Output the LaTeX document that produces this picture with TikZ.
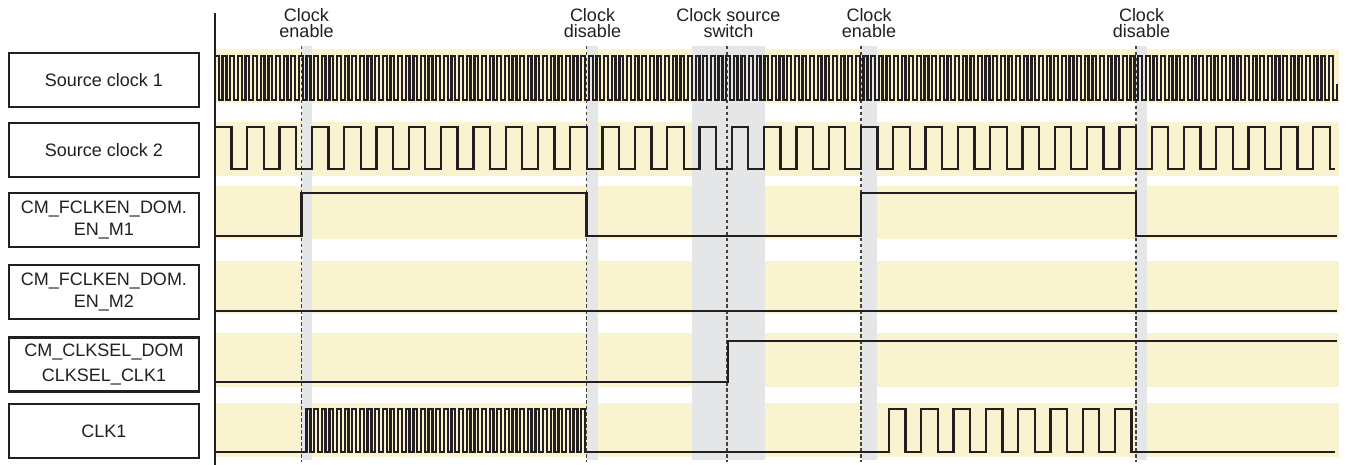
\documentclass[tikz,border=0pt]{standalone}
\usepackage{fontspec}
\setmainfont{Liberation Sans}
\definecolor{band}{RGB}{250,243,208}
\definecolor{bar}{RGB}{229,230,232}
\definecolor{ink}{RGB}{35,31,32}
\tikzset{
  lblbox/.style={draw=ink, line width=2.4pt, minimum width=190pt, minimum height=54pt,
    inner sep=0pt, align=center, text=ink, font=\fontsize{18}{22}\selectfont},
  toplbl/.style={anchor=south, inner sep=0pt, align=center, text=ink,
    font=\fontsize{18}{16.5}\selectfont},
  wave/.style={draw=ink, line width=2.3pt, line join=miter},
  mark line/.style={draw=ink!85, line width=1.1pt, dash pattern=on 3.5pt off 2.5pt},
}
\begin{document}
\begin{tikzpicture}[x=1pt,y=-1pt]
\useasboundingbox (0,0) rectangle (1350,465);
% bands
\foreach \a/\b in {49/103,122/176,186/239,261/314,333/387,403/457}
  \fill[band] (216,\a) rectangle (1339,\b);
% gray bars
\foreach \a/\b in {301.5/312,587/598,692/765,861/877,1136/1147}
  \fill[bar] (\a,46) rectangle (\b,460);
% dashed markers
\foreach \x in {301.5,586.8,727,861,1136}
  \draw[mark line] (\x,46) -- (\x,462);
% axis
\draw[ink, line width=1.3pt] (215,13) -- (215,465);
% labels
\node[lblbox] (sc1) at (104,80) {Source clock 1};
\node[lblbox] (sc2) at (104,150) {Source clock 2};
\node[lblbox] (em1) at (104,220) {CM\_FCLKEN\_DOM.\\EN\_M1};
\node[lblbox] (em2) at (104,292) {CM\_FCLKEN\_DOM.\\EN\_M2};
\node[lblbox, font=\fontsize{18}{25}\selectfont] (sel) at (104,364.5) {CM\_CLKSEL\_DOM\\CLKSEL\_CLK1};
\node[lblbox] (clk) at (104,431) {CLK1};
% top labels
\node[toplbl] (t1) at (306.5,38) {Clock\\enable};
\node[toplbl] (t2) at (592.5,38) {Clock\\disable};
\node[toplbl] (t3) at (728.5,38) {Clock source\\switch};
\node[toplbl] (t4) at (869,38) {Clock\\enable};
\node[toplbl] (t5) at (1141.5,38) {Clock\\disable};
% source clock 1
\draw[wave] (215,100) \foreach \k in {0,...,146} {
   -- ({215+7.63*\k},100) -- ({215+7.63*\k},56) -- ({218.8+7.63*\k},56) -- ({218.8+7.63*\k},100) }
   -- (1337,100) -- (1337,84);
% source clock 2
\draw[wave] (215,127) -- (231.5,127) -- (231.5,169)
   \foreach \k in {1,...,34} {
   -- ({215+32.3*\k},169) -- ({215+32.3*\k},127) -- ({231.5+32.3*\k},127) -- ({231.5+32.3*\k},169) }
   -- (1335,169);
% EN_M1
\draw[wave] (215,236) -- (301.5,236) -- (301.5,193) -- (586.5,193) -- (586.5,236)
   -- (861,236) -- (861,193) -- (1136,193) -- (1136,236) -- (1337,236);
% EN_M2
\draw[wave] (215,311) -- (1337,311);
% CLKSEL
\draw[wave] (215,382) -- (728,382) -- (728,341) -- (1337,341);
% CLK1
\draw[wave] (215,452) \foreach \k in {12,...,48} {
   -- ({215+7.63*\k},452) -- ({215+7.63*\k},409) -- ({218.8+7.63*\k},409) -- ({218.8+7.63*\k},452) }
   \foreach \k in {0,...,7} {
   -- ({889+32.3*\k},452) -- ({889+32.3*\k},409) -- ({905.5+32.3*\k},409) -- ({905.5+32.3*\k},452) }
   -- (1335,452);
\end{tikzpicture}
\end{document}
